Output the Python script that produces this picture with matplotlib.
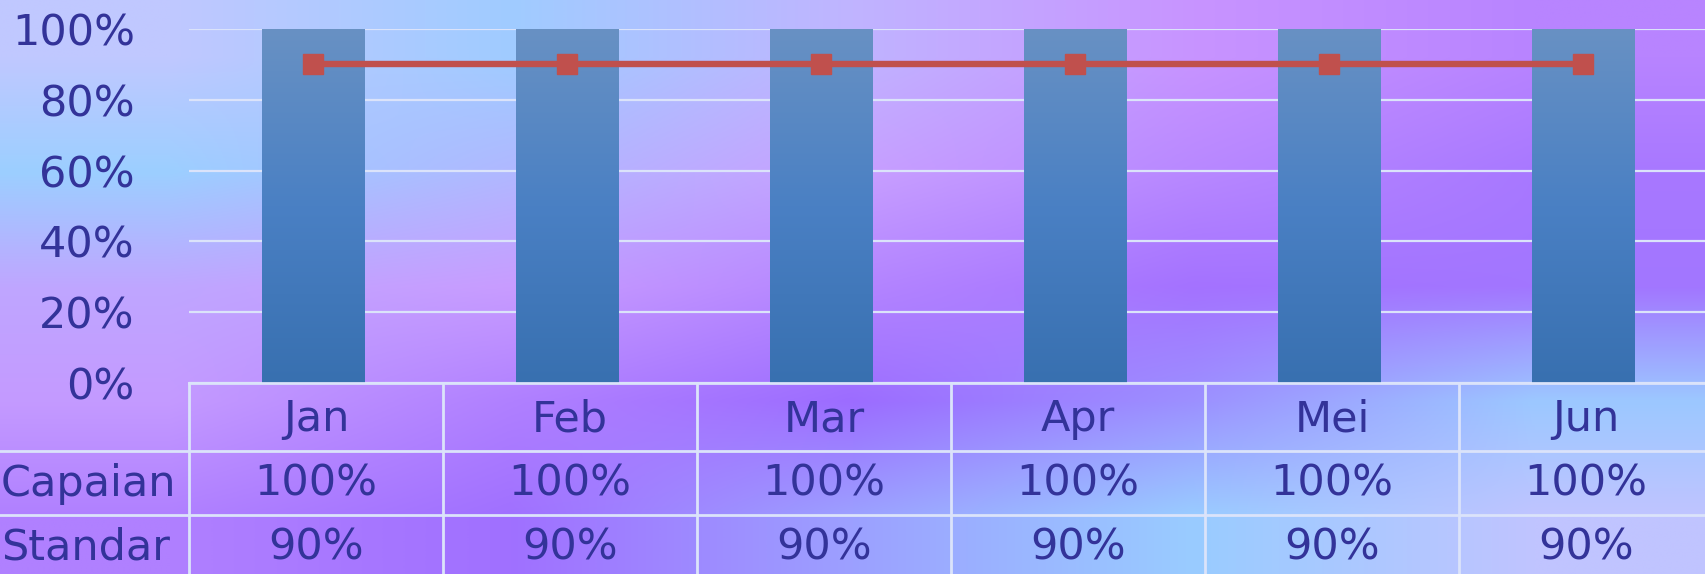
import numpy as np
import matplotlib
matplotlib.use("Agg")
import matplotlib.pyplot as plt
from matplotlib.colors import LinearSegmentedColormap, to_rgb

# data
months = ["Jan", "Feb", "Mar", "Apr", "Mei", "Jun"]
capaian = [100, 100, 100, 100, 100, 100]
standar = [90, 90, 90, 90, 90, 90]
row_names = ["Capaian", "Standar"]

txt = "#333399"
grid_col = "#dbe3fa"
fs = 31
W, H = 1706, 574

fig = plt.figure(figsize=(W / 100, H / 100), dpi=100)

# background colour wash (coarse grid, smoothed by imshow)
bg_cols = [
    ["#c0c8ff", "#a0ccff", "#c0b4ff", "#c894ff", "#b884ff"],
    ["#9ccfff", "#b0b8ff", "#c8a0ff", "#b888ff", "#a878ff"],
    ["#bfa6ff", "#c89cff", "#b485ff", "#a472ff", "#a276ff"],
    ["#c49aff", "#b080ff", "#9c6cff", "#9c90ff", "#9cc8ff"],
    ["#b080ff", "#a070ff", "#9ca0ff", "#99ccff", "#c0c4ff"],
]
bg_img = np.array([[to_rgb(c) for c in row] for row in bg_cols])
bg = fig.add_axes([0, 0, 1, 1], zorder=-1)
bg.imshow(bg_img, extent=[0, 1, 0, 1], aspect="auto", interpolation="bilinear")
bg.axis("off")

# main plot area in pixel terms
left, right = 189 / W, 1713 / W
y0, y100 = 383, 29
ax = fig.add_axes([left, 1 - y0 / H, right - left, (y0 - y100) / H])
ax.patch.set_alpha(0)

x = np.arange(len(months))
bars = ax.bar(x - 0.01, capaian, width=0.405, color="#4a80c2", zorder=2)

# vertical gradient inside each bar
bar_cmap = LinearSegmentedColormap.from_list("b", ["#3870b0", "#4a80c4", "#6891c3"])
grad = np.linspace(0, 1, 256).reshape(-1, 1)
for b in bars:
    bx, bw, bh = b.get_x(), b.get_width(), b.get_height()
    im = ax.imshow(grad, extent=[bx, bx + bw, 0, bh], origin="lower", aspect="auto",
                   cmap=bar_cmap, zorder=2.1)
    im.set_clip_path(b)

ax.plot(x - 0.01, standar, color="#c0504d", lw=4.6, marker="s", markersize=14.4,
        markerfacecolor="#c0504d", markeredgecolor="#c0504d", zorder=3)

ax.set_xlim(-0.5, len(months) - 0.5)
ax.set_ylim(0, 100)
ax.set_yticks(range(0, 101, 20))
ax.set_yticklabels([f"{v}%" for v in range(0, 101, 20)], color=txt, fontsize=fs)
ax.tick_params(axis="y", length=0, pad=39)
ax.set_xticks([])
ax.yaxis.grid(True, color=grid_col, lw=1.6, zorder=1)
ax.set_axisbelow(True)
for s in ax.spines.values():
    s.set_visible(False)

# data table below the plot
px = (y0 - y100)  # axes height in px
def ay(py):
    return -(py - y0) / px

tr = ax.get_xaxis_transform()
r1, r2, r3 = ay(451), ay(515), ay(600)
lk = dict(color=grid_col, lw=2, clip_on=False, zorder=4)
ax.plot([-0.5, len(months) - 0.5], [0, 0], transform=tr, **lk)
for k in range(len(months) + 1):
    ax.plot([k - 0.5, k - 0.5], [0, r3], transform=tr, **lk)
for yy in (r1, r2):
    ax.plot([-2, len(months) - 0.5], [yy, yy], transform=tr, **lk)

for i, m in enumerate(months):
    ax.text(i, ay(419), m, transform=tr, ha="center", va="center", color=txt, fontsize=fs)
    ax.text(i, ay(484), f"{capaian[i]}%", transform=tr, ha="center", va="center",
            color=txt, fontsize=fs)
    ax.text(i, ay(548), f"{standar[i]}%", transform=tr, ha="center", va="center",
            color=txt, fontsize=fs)

for name, py in zip(row_names, (484, 548)):
    fig.text(1 / W, 1 - py / H, name, ha="left", va="center", color=txt, fontsize=fs)

fig.savefig("out.png", dpi=100)
